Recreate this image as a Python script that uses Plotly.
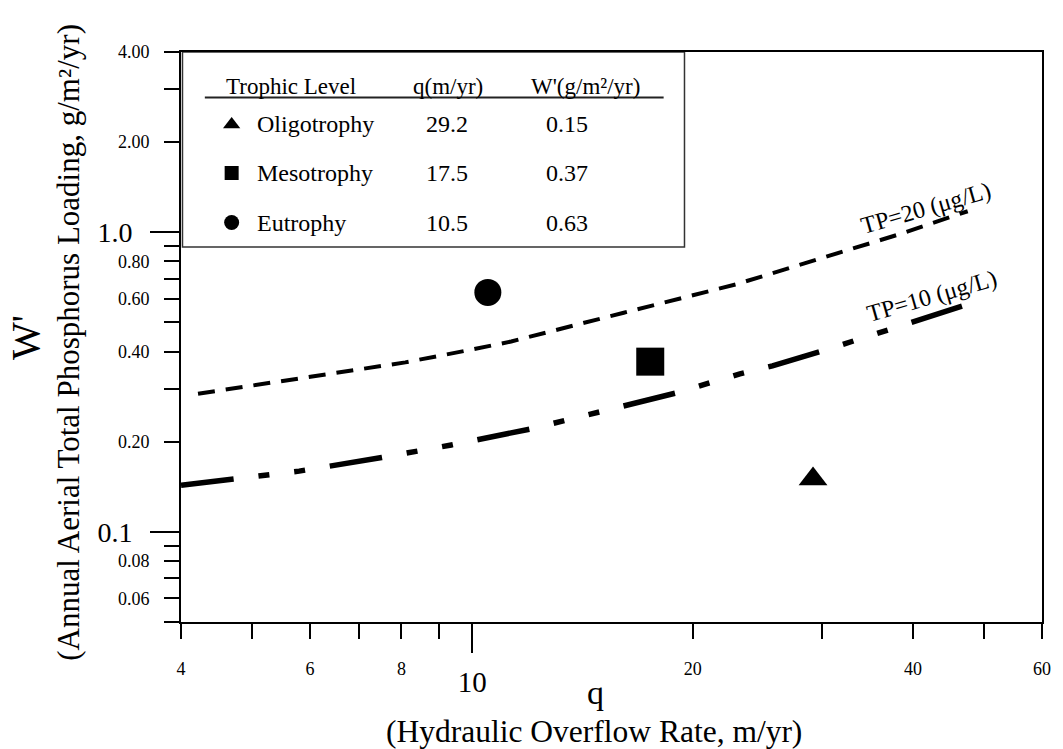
import math
import plotly.graph_objects as go

# ---------------- data ----------------
levels = ["Oligotrophy", "Mesotrophy", "Eutrophy"]
level_symbols = ["triangle-up", "square", "circle"]
q_levels = [29.2, 17.5, 10.5]
w_levels = [0.15, 0.37, 0.63]
q_text = ["29.2", "17.5", "10.5"]
w_text = ["0.15", "0.37", "0.63"]

tp20_q = [4.22, 4.66, 5.56, 6.71, 8.10, 9.93, 11.3, 16.1, 22.9, 29.6, 38.2, 47.5]
tp20_w = [0.289, 0.300, 0.320, 0.342, 0.368, 0.405, 0.432, 0.539, 0.670, 0.812, 0.983, 1.176]
tp10_q = [4.0, 5.17, 5.80, 7.52, 9.36, 12.02, 14.81, 19.0, 23.2, 25.7, 30.1, 36.6, 47.1]
tp10_w = [0.143, 0.1535, 0.1595, 0.177, 0.195, 0.2206, 0.2494, 0.291, 0.337, 0.358, 0.402, 0.468, 0.571]

x_ticks = [4, 5, 6, 7, 8, 9, 20, 30, 40, 50, 60]
x_ticktext = ["4", "", "6", "", "8", "", "20", "", "40", "", "60"]
x_major = [10]
x_major_text = ["10"]
y_ticks = [0.05, 0.06, 0.07, 0.08, 0.09, 0.2, 0.3, 0.4, 0.5, 0.6, 0.7, 0.8, 0.9, 2, 3, 4]
y_ticktext = ["", "0.06", "", "0.08", "", "0.20", "", "0.40", "", "0.60", "", "0.80", "", "2.00", "", "4.00"]
y_major = [0.1, 1]
y_major_text = ["0.1", "1.0"]

# ---------------- layout geometry ----------------
W, H = 1063, 749
L, R, T, B = 181, 15, 52, 127
PW, PH = W - L - R, H - T - B
FONT = "Liberation Serif"


def px2x(px):
    return (px - L) / PW


def py2y(py):
    return (H - B - py) / PH


xr = [math.log10(4), math.log10(60)]
yr = [math.log10(0.05), math.log10(4)]

fig = go.Figure()

fig.add_trace(go.Scatter(
    x=tp20_q, y=tp20_w, mode="lines",
    line=dict(color="black", width=4, dash="17px,11px"),
    hoverinfo="skip"))
fig.add_trace(go.Scatter(
    x=tp10_q, y=tp10_w, mode="lines",
    line=dict(color="black", width=5.5, dash="53px,25px,11px,25px,11px,25px"),
    hoverinfo="skip"))
fig.add_trace(go.Scatter(
    x=q_levels, y=w_levels, mode="markers",
    marker=dict(symbol=level_symbols, size=[25, 28, 27], color="black",
                opacity=1, line=dict(width=0)),
    hoverinfo="skip"))

# empty trace so the long-tick overlay axes are drawn
fig.add_trace(go.Scatter(x=[], y=[], xaxis="x2", yaxis="y2", hoverinfo="skip"))

# legend-table symbols on a hidden overlay axis in unit coordinates
row_y = [124.5, 173, 222.5]
fig.add_trace(go.Scatter(
    x=[px2x(232)] * 3, y=[py2y(v) for v in row_y],
    xaxis="x3", yaxis="y3", mode="markers",
    marker=dict(symbol=level_symbols, size=[15, 14, 15], color="black",
                opacity=1, line=dict(width=0)),
    hoverinfo="skip"))

axis_common = dict(showgrid=False, zeroline=False, tickcolor="black",
                   ticks="outside", tickwidth=2)

fig.update_layout(
    width=W, height=H,
    margin=dict(l=L, r=R, t=T, b=B, pad=0),
    paper_bgcolor="white", plot_bgcolor="white",
    showlegend=False,
    font=dict(family=FONT, color="black"),
    xaxis=dict(type="log", range=xr, tickvals=x_ticks, ticktext=x_ticktext,
               ticklen=15, showline=True, linewidth=2, linecolor="black",
               mirror=True, tickfont=dict(size=18, family=FONT),
               ticklabelstandoff=14, **axis_common),
    xaxis2=dict(type="log", range=xr, overlaying="x", anchor="y2", side="bottom",
                tickvals=x_major, ticktext=x_major_text, ticklen=30,
                showline=False, tickfont=dict(size=29, family=FONT),
                ticklabelstandoff=4, **axis_common),
    yaxis=dict(type="log", range=yr, tickvals=y_ticks, ticktext=y_ticktext,
               ticklen=15, showline=True, linewidth=2, linecolor="black",
               mirror=True, tickfont=dict(size=18, family=FONT),
               ticklabelstandoff=11, **axis_common),
    yaxis2=dict(type="log", range=yr, overlaying="y", anchor="x2", side="left",
                tickvals=y_major, ticktext=y_major_text, ticklen=30,
                showline=False, tickfont=dict(size=28, family=FONT),
                ticklabelstandoff=12, **axis_common),
    xaxis3=dict(range=[0, 1], overlaying="x", anchor="y3", visible=False),
    yaxis3=dict(range=[0, 1], overlaying="y", anchor="x3", visible=False),
)

shapes = [
    # legend table box
    dict(type="rect", xref="paper", yref="paper",
         x0=px2x(182.5), x1=px2x(688), y0=py2y(247), y1=py2y(52),
         line=dict(color="#333333", width=1.5), fillcolor="white", layer="below"),
    # header rule
    dict(type="line", xref="paper", yref="paper",
         x0=px2x(205), x1=px2x(667), y0=py2y(97.5), y1=py2y(97.5),
         line=dict(color="#222222", width=2)),
]
fig.update_layout(shapes=shapes)

ann = []


def add_text(text, px, py, size, xanchor="center", angle=0):
    ann.append(dict(text=text, x=px2x(px), y=py2y(py), xref="paper", yref="paper",
                    xanchor=xanchor, yanchor="middle", showarrow=False,
                    textangle=angle, font=dict(family=FONT, size=size, color="black")))


# table header
add_text("Trophic Level", 292, 87, 23)
add_text("q(m/yr)", 450, 87, 23)
add_text("W'(g/m\u00b2/yr)", 588, 87, 23)
# table rows
for i, name in enumerate(levels):
    add_text(name, 256, row_y[i], 24, xanchor="left")
    add_text(q_text[i], 449, row_y[i], 24)
    add_text(w_text[i], 570, row_y[i], 24)

# curve labels
add_text("TP=20 (\u03bcg/L)", 931, 208, 24, angle=-16)
add_text("TP=10 (\u03bcg/L)", 937, 296, 24, angle=-16)

# axis titles
add_text("q", 598, 692, 34)
add_text("(Hydraulic Overflow Rate, m/yr)", 597, 731, 31.5)
add_text("W'", 24, 338, 40, angle=-90)
add_text("(Annual Aerial Total Phosphorus Loading, g/m\u00b2/yr)", 67, 342, 31, angle=-90)

fig.update_layout(annotations=ann)

fig.write_html("out.html")
